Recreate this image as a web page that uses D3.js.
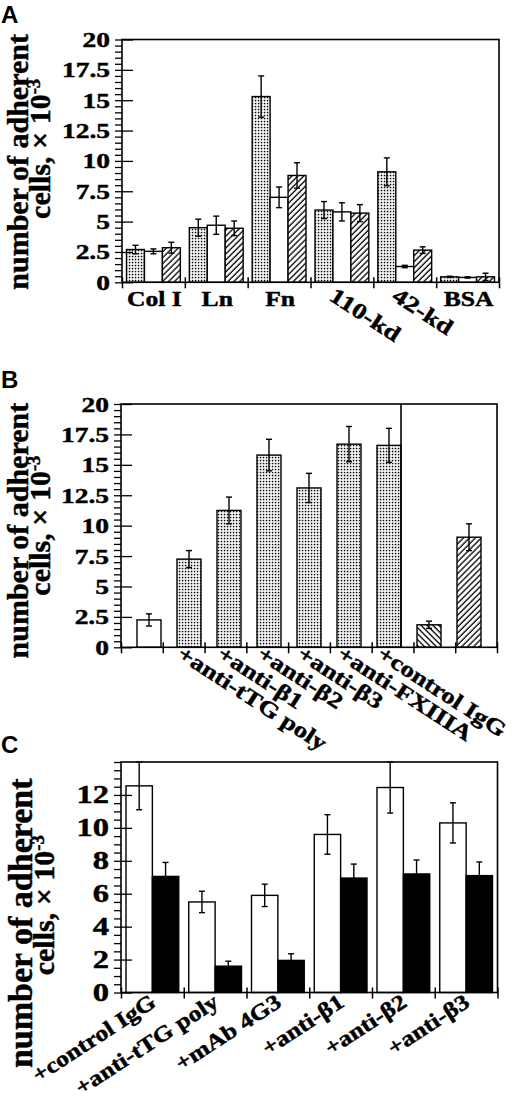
<!DOCTYPE html>
<html>
<head>
<meta charset="utf-8">
<script src="https://cdn.jsdelivr.net/npm/d3@7"></script>
<style>
  body { margin: 0; background: #fff; }
  svg text { font-family: "Liberation Serif", "Times New Roman", serif; font-weight: bold; fill: #000;
             stroke: #000; stroke-width: 0.45px; }
  .panel-label { font-family: "Liberation Sans", Arial, sans-serif; stroke-width: 0; }
</style>
</head>
<body>
<div class="container"></div>
<script>
// ---- panel A: adhesion to substrates ----
const catsA = ["Col I", "Ln", "Fn", "110-kd", "42-kd", "BSA"];
const seriesA = ["dotted", "open", "hatched"];
const dottedA = [2.7, 4.5, 15.3, 5.95, 9.1, 0.45];
const dottedErrA = [0.35, 0.7, 1.7, 0.7, 1.15, 0.05];
const openA = [2.55, 4.7, 7.0, 5.8, 1.3, 0.4];
const openErrA = [0.2, 0.75, 0.85, 0.75, 0.1, 0.05];
const hatchedA = [2.85, 4.45, 8.8, 5.7, 2.65, 0.45];
const hatchedErrA = [0.45, 0.6, 1.05, 0.7, 0.27, 0.3];

// ---- panel B: inhibition by antibodies ----
const catsB = ["", "+anti-tTG poly", "+anti-β1", "+anti-β2", "+anti-β3", "+anti-FXIIIA", "+control IgG", "", ""];
const seriesB = ["open", "dotted", "dotted", "dotted", "dotted", "dotted", "dotted", "backhatched", "hatched"];
const valuesB = [2.25, 7.25, 11.25, 15.8, 13.1, 16.7, 16.6, 1.85, 9.05];
const errB = [0.5, 0.7, 1.1, 1.3, 1.2, 1.45, 1.4, 0.3, 1.1];

// ---- panel C ----
const catsC = ["+control IgG", "+anti-tTG poly", "+mAb 4G3", "+anti-β1", "+anti-β2", "+anti-β3"];
const seriesC = ["open", "filled"];
const openC = [12.55, 5.5, 5.9, 9.6, 12.45, 10.3];
const openErrC = [1.45, 0.65, 0.68, 1.2, 1.55, 1.22];
const filledC = [7.05, 1.6, 1.95, 6.95, 7.2, 7.1];
const filledErrC = [0.85, 0.3, 0.4, 0.85, 0.85, 0.83];

const ticksAB = [0, 2.5, 5, 7.5, 10, 12.5, 15, 17.5, 20];
const ticksC = [0, 2, 4, 6, 8, 10, 12];

const width = 520;
const height = 1104;

const svg = d3.select(".container")
  .append("svg")
    .attr("width", width)
    .attr("height", height);

const defs = svg.append("defs");

// dotted fill
const dots = defs.append("pattern")
  .attr("id", "dotted")
  .attr("patternUnits", "userSpaceOnUse")
  .attr("width", 3)
  .attr("height", 3);
dots.append("rect").attr("width", 3).attr("height", 3).attr("fill", "#fff");
dots.append("rect").attr("x", 0.8).attr("y", 0.8).attr("width", 1.5).attr("height", 1.5).attr("fill", "#000");

function hatch(id, angle) {
  const p = defs.append("pattern")
    .attr("id", id)
    .attr("patternUnits", "userSpaceOnUse")
    .attr("width", 4.2)
    .attr("height", 4.2)
    .attr("patternTransform", "rotate(" + angle + ")");
  p.append("rect").attr("width", 4.2).attr("height", 4.2).attr("fill", "#fff");
  p.append("line")
    .attr("x1", 1).attr("y1", 0).attr("x2", 1).attr("y2", 4.2)
    .attr("stroke", "#000").attr("stroke-width", 1.3);
}
hatch("hatched", 45);
hatch("backhatched", -45);

const fill = d3.scaleOrdinal()
  .domain(["open", "dotted", "hatched", "backhatched", "filled"])
  .range(["#fff", "url(#dotted)", "url(#hatched)", "url(#backhatched)", "#000"]);

// frame, y axis with minor ticks, x axis with boundary ticks
function drawFrame(g, y, x0, x1, nCats, majors, fmt, labelSize, labelStretch) {
  const [bottom, top] = y.range();
  const ymax = y.domain()[1];

  g.append("g")
    .call(d3.axisLeft(y).tickValues(d3.range(0, ymax + 1e-6, 0.5)).tickSize(7).tickSizeOuter(0).tickFormat(""))
    .call(a => a.select(".domain").remove())
    .selectAll("line").attr("stroke-width", 1.3);

  g.append("g")
    .call(d3.axisRight(y).tickValues(majors).tickSize(11).tickFormat(""))
    .call(a => a.select(".domain").remove())
    .selectAll("line").attr("stroke-width", 1.3);

  const labels = g.append("g")
    .call(d3.axisLeft(y).tickValues(majors).tickSize(0).tickPadding(12).tickFormat(fmt));
  labels.select(".domain").remove();
  labels.selectAll("text")
    .attr("x", 0)
    .attr("transform", "translate(-12,0) scale(" + labelStretch + ",1)")
    .style("font-size", labelSize + "px")
    .style("font-family", "Liberation Serif");

  // boundary ticks on the baseline
  const xb = d3.scaleLinear().domain([0, nCats]).range([0, x1 - x0]);
  g.append("g")
    .attr("transform", "translate(0," + bottom + ")")
    .call(d3.axisBottom(xb).ticks(nCats).tickSizeOuter(0).tickFormat(""))
    .call(a => a.select(".domain").remove())
    .selectAll(".tick line")
      .attr("y1", -5)
      .attr("y2", 6)
      .attr("stroke-width", 1.5);

  g.append("rect")
    .attr("x", 0)
    .attr("y", top)
    .attr("width", x1 - x0)
    .attr("height", bottom - top)
    .attr("fill", "none")
    .attr("stroke", "#000")
    .attr("stroke-width", 1.6);
}

function drawBars(g, rows, y) {
  g.selectAll(".bar")
    .data(rows)
    .enter()
    .append("rect")
      .classed("bar", true)
      .attr("x", d => d.x)
      .attr("y", d => y(d.value))
      .attr("width", d => d.w)
      .attr("height", d => y(0) - y(d.value))
      .attr("fill", d => fill(d.series))
      .attr("stroke", "#000")
      .attr("stroke-width", 1.4);

  const eb = g.selectAll(".err")
    .data(rows)
    .enter()
    .append("g")
      .classed("err", true)
      .attr("stroke", "#000")
      .attr("stroke-width", 1.4);
  eb.append("line")
    .attr("x1", d => d.x + d.w / 2).attr("x2", d => d.x + d.w / 2)
    .attr("y1", d => y(d.value - d.err)).attr("y2", d => y(d.value + d.err));
  eb.append("line")
    .attr("x1", d => d.x + d.w / 2 - 3).attr("x2", d => d.x + d.w / 2 + 3)
    .attr("y1", d => y(d.value + d.err)).attr("y2", d => y(d.value + d.err));
  eb.append("line")
    .attr("x1", d => d.x + d.w / 2 - 3).attr("x2", d => d.x + d.w / 2 + 3)
    .attr("y1", d => y(d.value - d.err)).attr("y2", d => y(d.value - d.err));
}

function yTitle(cy1, cy2, size1, dx) {
  svg.append("text")
    .attr("transform", "translate(" + (28 + dx) + "," + cy1 + ") rotate(-90)")
    .attr("text-anchor", "middle")
    .style("font-size", size1 + "px")
    .text("number of adherent");
  const t = svg.append("text")
    .attr("transform", "translate(" + (50 + dx) + "," + cy2 + ") rotate(-90)")
    .attr("text-anchor", "middle")
    .style("font-size", "30px")
    .text("cells, × 10");
  t.append("tspan")
    .attr("dy", "-0.55em")
    .style("font-size", "0.62em")
    .text("-3");
}

function panelLabel(txt, yy) {
  svg.append("text")
    .classed("panel-label", true)
    .attr("x", 1)
    .attr("y", yy)
    .style("font-size", "24px")
    .text(txt);
}

// ================= panel A =================
{
  const x0 = 122, x1 = 499, top = 39.5, bottom = 282.3;
  const g = svg.append("g").attr("transform", "translate(" + x0 + ",0)");
  const y = d3.scaleLinear().domain([0, 20]).range([bottom, top]);
  const x = d3.scaleBand().domain(catsA).range([0, x1 - x0]);
  const xs = d3.scaleBand().domain(seriesA).range([4.5, x.bandwidth() - 4.5]);

  const valuesBySeries = {dotted: [dottedA, dottedErrA], open: [openA, openErrA], hatched: [hatchedA, hatchedErrA]};
  const rows = [];
  catsA.forEach((c, i) => {
    seriesA.forEach(s => {
      rows.push({cat: c, series: s, x: x(c) + xs(s), w: xs.bandwidth(),
                 value: valuesBySeries[s][0][i], err: valuesBySeries[s][1][i]});
    });
  });

  drawBars(g, rows, y);
  drawFrame(g, y, x0, x1, catsA.length, ticksAB, d => d, 22, 1.25);

  const slanted = new Set(["110-kd", "42-kd"]);
  catsA.forEach(c => {
    const cx = x(c) + x.bandwidth() / 2;
    if (slanted.has(c)) {
      g.append("text")
        .attr("transform", "translate(" + (cx - 14) + "," + (bottom + 17) + ") rotate(33) scale(1.25,1)")
        .style("font-size", "22px")
        .text(c);
    } else {
      g.append("text")
        .attr("transform", "translate(" + (cx + 1) + "," + (bottom + 24) + ") scale(1.22,1)")
        .attr("text-anchor", "middle")
        .style("font-size", "21px")
        .text(c);
    }
  });

  yTitle((top + bottom) / 2 + 1, (top + bottom) / 2 - 12, 30, 0);
  panelLabel("A", 23);
}

// ================= panel B =================
{
  const x0 = 121, x1 = 497, top = 404, bottom = 647.3;
  const g = svg.append("g").attr("transform", "translate(" + x0 + ",0)");
  const y = d3.scaleLinear().domain([0, 20]).range([bottom, top]);
  const idx = d3.range(catsB.length);
  const x = d3.scaleBand().domain(idx).range([0, x1 - x0]).padding(0.4);
  const step = x.step();

  const rows = idx.map(i => ({series: seriesB[i], x: x(i), w: x.bandwidth(), value: valuesB[i], err: errB[i]}));
  drawBars(g, rows, y);
  drawFrame(g, y, x0, x1, catsB.length, ticksAB, d => d, 22, 1.25);

  // separator between the two groups
  g.append("line")
    .attr("x1", 7 * step).attr("x2", 7 * step)
    .attr("y1", top).attr("y2", bottom)
    .attr("stroke", "#000").attr("stroke-width", 1.6);

  idx.filter(i => catsB[i] !== "").forEach(i => {
    const cx = i * step + step / 2;
    g.append("text")
      .attr("transform", "translate(" + (cx - 5) + "," + (bottom + 10) + ") rotate(33) scale(1.22,1)")
      .style("font-size", "22px")
      .text(catsB[i]);
  });

  yTitle((top + bottom) / 2 + 5, (top + bottom) / 2, 30, 0);
  panelLabel("B", 388);
}

// ================= panel C =================
{
  const x0 = 121, x1 = 497.5, top = 762, bottom = 992.5;
  const g = svg.append("g").attr("transform", "translate(" + x0 + ",0)");
  const y = d3.scaleLinear().domain([0, 14]).range([bottom, top]);
  const x = d3.scaleBand().domain(catsC).range([0, x1 - x0]);
  const xs = d3.scaleBand().domain(seriesC).range([5, x.bandwidth() - 5]);

  const rows = [];
  catsC.forEach((c, i) => {
    rows.push({series: "open", x: x(c) + xs("open"), w: xs.bandwidth(), value: openC[i], err: openErrC[i]});
    rows.push({series: "filled", x: x(c) + xs("filled"), w: xs.bandwidth(), value: filledC[i], err: filledErrC[i]});
  });
  drawBars(g, rows, y);
  drawFrame(g, y, x0, x1, catsC.length, ticksC, d => d, 25, 1.3);

  catsC.forEach(c => {
    const cx = x(c) + x.bandwidth() / 2;
    g.append("text")
      .attr("transform", "translate(" + (cx + 5) + "," + (bottom + 13) + ") rotate(-33) scale(1.17,1)")
      .attr("text-anchor", "end")
      .style("font-size", "22px")
      .text(c);
  });

  yTitle((top + bottom) / 2 + 46, (top + bottom) / 2 + 28, 34, 4);
  panelLabel("C", 753);
}
</script>
</body>
</html>
